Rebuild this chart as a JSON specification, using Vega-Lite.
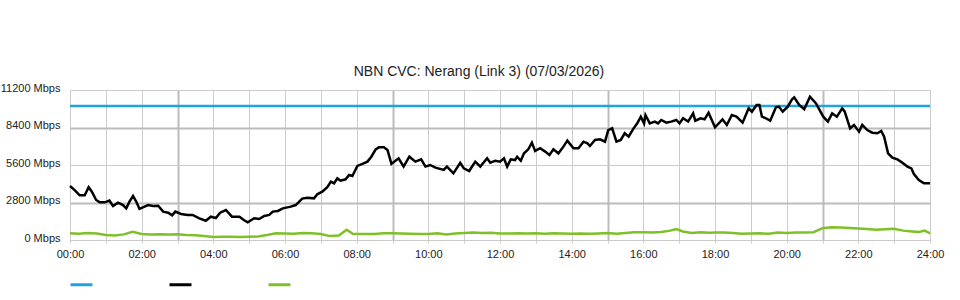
{
  "$schema": "https://vega.github.io/schema/vega-lite/v6.json",
  "autosize": "none",
  "width": 860,
  "height": 150,
  "padding": {"left": 70, "top": 90, "right": 30, "bottom": 60},
  "background": "white",
  "title": {
    "text": "NBN CVC: Nerang (Link 3) (07/03/2026)",
    "font": "Liberation Sans",
    "fontSize": 14,
    "fontWeight": "normal",
    "color": "#222222",
    "anchor": "middle",
    "dx": -21,
    "dy": 22,
    "baseline": "alphabetic",
    "offset": 14
  },
  "config": {
    "view": {"stroke": "#c8c8c8", "strokeWidth": 1},
    "axis": {
      "labelFont": "Liberation Sans",
      "labelFontSize": 11,
      "labelColor": "#222222",
      "domain": false,
      "title": null
    }
  },
  "datasets": {
    "capacity": [
      {"h": 0, "v": 10000, "series": "Capacity"},
      {"h": 24, "v": 10000, "series": "Capacity"}
    ],
    "upload": [
      {"h": 0, "v": 500}, {"h": 0.25, "v": 470}, {"h": 0.5, "v": 520}, {"h": 0.75, "v": 480},
      {"h": 1.0, "v": 380}, {"h": 1.25, "v": 330}, {"h": 1.5, "v": 420}, {"h": 1.75, "v": 620},
      {"h": 2.0, "v": 450}, {"h": 2.25, "v": 420}, {"h": 2.5, "v": 430}, {"h": 2.75, "v": 420},
      {"h": 3.0, "v": 430}, {"h": 3.25, "v": 380}, {"h": 3.5, "v": 360}, {"h": 3.75, "v": 300},
      {"h": 4.0, "v": 230}, {"h": 4.25, "v": 240}, {"h": 4.5, "v": 240}, {"h": 4.75, "v": 230},
      {"h": 5.0, "v": 240}, {"h": 5.25, "v": 260}, {"h": 5.5, "v": 370}, {"h": 5.75, "v": 500},
      {"h": 6.0, "v": 480}, {"h": 6.25, "v": 470}, {"h": 6.5, "v": 520}, {"h": 6.75, "v": 500},
      {"h": 7.0, "v": 440}, {"h": 7.25, "v": 290}, {"h": 7.5, "v": 330}, {"h": 7.72, "v": 760},
      {"h": 7.9, "v": 450}, {"h": 8.25, "v": 440}, {"h": 8.5, "v": 450}, {"h": 8.75, "v": 500},
      {"h": 9.0, "v": 500}, {"h": 9.25, "v": 480}, {"h": 9.5, "v": 470}, {"h": 9.75, "v": 440},
      {"h": 10.0, "v": 450}, {"h": 10.25, "v": 500}, {"h": 10.5, "v": 420}, {"h": 10.75, "v": 490},
      {"h": 11.0, "v": 520}, {"h": 11.25, "v": 560}, {"h": 11.5, "v": 520}, {"h": 11.75, "v": 540},
      {"h": 12.0, "v": 480}, {"h": 12.25, "v": 490}, {"h": 12.5, "v": 500}, {"h": 12.75, "v": 480},
      {"h": 13.0, "v": 500}, {"h": 13.25, "v": 470}, {"h": 13.5, "v": 500}, {"h": 13.75, "v": 490},
      {"h": 14.0, "v": 470}, {"h": 14.25, "v": 480}, {"h": 14.5, "v": 470}, {"h": 14.75, "v": 490},
      {"h": 15.0, "v": 520}, {"h": 15.25, "v": 460}, {"h": 15.5, "v": 520}, {"h": 15.75, "v": 580},
      {"h": 16.0, "v": 580}, {"h": 16.25, "v": 560}, {"h": 16.5, "v": 600}, {"h": 16.75, "v": 700},
      {"h": 16.92, "v": 820}, {"h": 17.1, "v": 640}, {"h": 17.35, "v": 520}, {"h": 17.6, "v": 580},
      {"h": 17.85, "v": 540}, {"h": 18.0, "v": 560}, {"h": 18.25, "v": 560}, {"h": 18.5, "v": 520},
      {"h": 18.75, "v": 470}, {"h": 19.0, "v": 490}, {"h": 19.25, "v": 500}, {"h": 19.5, "v": 470},
      {"h": 19.75, "v": 560}, {"h": 20.0, "v": 520}, {"h": 20.25, "v": 560}, {"h": 20.5, "v": 560},
      {"h": 20.75, "v": 580}, {"h": 21.0, "v": 880}, {"h": 21.25, "v": 950}, {"h": 21.5, "v": 930},
      {"h": 21.75, "v": 900}, {"h": 22.0, "v": 860}, {"h": 22.25, "v": 820}, {"h": 22.5, "v": 760},
      {"h": 22.75, "v": 800}, {"h": 23.0, "v": 840}, {"h": 23.25, "v": 700}, {"h": 23.5, "v": 640},
      {"h": 23.7, "v": 600}, {"h": 23.85, "v": 700}, {"h": 24.0, "v": 500}
    ],
    "download": [
      {"h": 0, "v": 4030}, {"h": 0.13, "v": 3730}, {"h": 0.27, "v": 3340}, {"h": 0.41, "v": 3340},
      {"h": 0.52, "v": 3940}, {"h": 0.61, "v": 3610}, {"h": 0.73, "v": 2990}, {"h": 0.83, "v": 2810},
      {"h": 0.97, "v": 2810}, {"h": 1.1, "v": 2940}, {"h": 1.2, "v": 2540}, {"h": 1.34, "v": 2790},
      {"h": 1.48, "v": 2610}, {"h": 1.57, "v": 2360}, {"h": 1.66, "v": 2860}, {"h": 1.76, "v": 3290},
      {"h": 1.85, "v": 2860}, {"h": 1.94, "v": 2320}, {"h": 2.08, "v": 2490}, {"h": 2.18, "v": 2610},
      {"h": 2.32, "v": 2540}, {"h": 2.46, "v": 2560}, {"h": 2.6, "v": 2120}, {"h": 2.74, "v": 2040},
      {"h": 2.85, "v": 1840}, {"h": 2.94, "v": 2120}, {"h": 3.1, "v": 1940}, {"h": 3.28, "v": 1870},
      {"h": 3.42, "v": 1870}, {"h": 3.61, "v": 1620}, {"h": 3.79, "v": 1440}, {"h": 3.93, "v": 1740},
      {"h": 4.07, "v": 1640}, {"h": 4.19, "v": 2040}, {"h": 4.35, "v": 2240}, {"h": 4.52, "v": 1740},
      {"h": 4.73, "v": 1740}, {"h": 4.85, "v": 1490}, {"h": 4.96, "v": 1320}, {"h": 5.14, "v": 1620},
      {"h": 5.28, "v": 1570}, {"h": 5.42, "v": 1790}, {"h": 5.56, "v": 1870}, {"h": 5.66, "v": 2120},
      {"h": 5.8, "v": 2170}, {"h": 5.94, "v": 2360}, {"h": 6.16, "v": 2490}, {"h": 6.3, "v": 2610},
      {"h": 6.48, "v": 3090}, {"h": 6.62, "v": 3160}, {"h": 6.81, "v": 3110}, {"h": 6.9, "v": 3410},
      {"h": 7.04, "v": 3610}, {"h": 7.18, "v": 3940}, {"h": 7.28, "v": 4360}, {"h": 7.37, "v": 4230},
      {"h": 7.46, "v": 4600}, {"h": 7.55, "v": 4430}, {"h": 7.69, "v": 4530}, {"h": 7.79, "v": 4850},
      {"h": 7.88, "v": 4780}, {"h": 8.02, "v": 5530}, {"h": 8.16, "v": 5680}, {"h": 8.3, "v": 5850},
      {"h": 8.41, "v": 6220}, {"h": 8.53, "v": 6770}, {"h": 8.62, "v": 6920}, {"h": 8.76, "v": 6920},
      {"h": 8.86, "v": 6720}, {"h": 8.97, "v": 5680}, {"h": 9.17, "v": 6100}, {"h": 9.31, "v": 5480},
      {"h": 9.47, "v": 6220}, {"h": 9.64, "v": 5850}, {"h": 9.8, "v": 6020}, {"h": 9.92, "v": 5480},
      {"h": 10.05, "v": 5600}, {"h": 10.2, "v": 5400}, {"h": 10.43, "v": 5230}, {"h": 10.52, "v": 5480},
      {"h": 10.7, "v": 4980}, {"h": 10.89, "v": 5770}, {"h": 10.99, "v": 5350}, {"h": 11.14, "v": 5150},
      {"h": 11.31, "v": 5850}, {"h": 11.45, "v": 5480}, {"h": 11.64, "v": 6100}, {"h": 11.73, "v": 5770},
      {"h": 11.87, "v": 5920}, {"h": 12.0, "v": 5850}, {"h": 12.11, "v": 6100}, {"h": 12.2, "v": 5480},
      {"h": 12.3, "v": 6020}, {"h": 12.42, "v": 5970}, {"h": 12.48, "v": 6220}, {"h": 12.58, "v": 5920},
      {"h": 12.67, "v": 6470}, {"h": 12.79, "v": 6770}, {"h": 12.89, "v": 7270}, {"h": 12.98, "v": 6650},
      {"h": 13.12, "v": 6850}, {"h": 13.26, "v": 6600}, {"h": 13.38, "v": 6350}, {"h": 13.49, "v": 6770},
      {"h": 13.63, "v": 6470}, {"h": 13.77, "v": 6970}, {"h": 13.88, "v": 7420}, {"h": 14.05, "v": 6850},
      {"h": 14.19, "v": 6850}, {"h": 14.33, "v": 7340}, {"h": 14.44, "v": 7220}, {"h": 14.51, "v": 7020},
      {"h": 14.65, "v": 7470}, {"h": 14.79, "v": 7520}, {"h": 14.93, "v": 7340}, {"h": 15.02, "v": 8210},
      {"h": 15.13, "v": 8340}, {"h": 15.25, "v": 7340}, {"h": 15.37, "v": 7470}, {"h": 15.48, "v": 7970},
      {"h": 15.59, "v": 7720}, {"h": 15.71, "v": 8260}, {"h": 15.83, "v": 8710}, {"h": 15.93, "v": 9210},
      {"h": 16.02, "v": 8710}, {"h": 16.06, "v": 9330}, {"h": 16.18, "v": 8710}, {"h": 16.32, "v": 8840},
      {"h": 16.41, "v": 8710}, {"h": 16.5, "v": 8960}, {"h": 16.64, "v": 8760}, {"h": 16.78, "v": 8840},
      {"h": 16.92, "v": 8960}, {"h": 17.01, "v": 8710}, {"h": 17.11, "v": 9090}, {"h": 17.25, "v": 8840},
      {"h": 17.39, "v": 9460}, {"h": 17.45, "v": 8910}, {"h": 17.6, "v": 9090}, {"h": 17.71, "v": 9010},
      {"h": 17.82, "v": 9510}, {"h": 18.0, "v": 8410}, {"h": 18.21, "v": 9010}, {"h": 18.33, "v": 8590},
      {"h": 18.47, "v": 9330}, {"h": 18.6, "v": 9210}, {"h": 18.77, "v": 8760}, {"h": 18.94, "v": 9830},
      {"h": 19.03, "v": 9580}, {"h": 19.16, "v": 10080}, {"h": 19.24, "v": 10080}, {"h": 19.31, "v": 9210},
      {"h": 19.42, "v": 9090}, {"h": 19.54, "v": 8910}, {"h": 19.7, "v": 9910}, {"h": 19.78, "v": 9960},
      {"h": 19.89, "v": 9580}, {"h": 20.03, "v": 9960}, {"h": 20.15, "v": 10500}, {"h": 20.21, "v": 10650},
      {"h": 20.35, "v": 10080}, {"h": 20.49, "v": 9760}, {"h": 20.65, "v": 10700}, {"h": 20.82, "v": 10200},
      {"h": 21.02, "v": 9210}, {"h": 21.15, "v": 8840}, {"h": 21.27, "v": 9460}, {"h": 21.4, "v": 9210},
      {"h": 21.55, "v": 9830}, {"h": 21.62, "v": 9580}, {"h": 21.77, "v": 8340}, {"h": 21.88, "v": 8590},
      {"h": 22.02, "v": 8090}, {"h": 22.11, "v": 8590}, {"h": 22.25, "v": 8210}, {"h": 22.39, "v": 8010},
      {"h": 22.53, "v": 7970}, {"h": 22.64, "v": 8140}, {"h": 22.72, "v": 7720}, {"h": 22.83, "v": 6470},
      {"h": 22.95, "v": 6150}, {"h": 23.09, "v": 6020}, {"h": 23.23, "v": 5770}, {"h": 23.37, "v": 5480},
      {"h": 23.48, "v": 5350}, {"h": 23.55, "v": 4930}, {"h": 23.69, "v": 4480}, {"h": 23.83, "v": 4230},
      {"h": 24.0, "v": 4230}
    ]
  },
  "encoding": {
    "x": {
      "field": "h",
      "type": "quantitative",
      "scale": {"domain": [0, 24], "nice": false, "zero": false},
      "axis": {
        "values": [0,1,2,3,4,5,6,7,8,9,10,11,12,13,14,15,16,17,18,19,20,21,22,23,24],
        "labelExpr": "datum.value % 2 == 0 ? (datum.value < 10 ? '0' : '') + datum.value + ':00' : ''",
        "grid": true,
        "gridColor": {"condition": {"test": "datum.value % 6 == 3", "value": "#bcbcbc"}, "value": "#cccccc"},
        "gridWidth": {"condition": {"test": "datum.value % 6 == 3", "value": 2}, "value": 1},
        "ticks": true,
        "tickSize": 3,
        "tickColor": "#cccccc",
        "labelPadding": 5,
        "labelFlush": false,
        "labelOverlap": false
      }
    },
    "y": {
      "field": "v",
      "type": "quantitative",
      "scale": {"domain": [0, 11200], "nice": false},
      "axis": {
        "values": [0, 2800, 5600, 8400, 11200],
        "labelExpr": "datum.value + ' Mbps'",
        "grid": true,
        "gridColor": {"condition": {"test": "datum.value == 2800 || datum.value == 8400", "value": "#bcbcbc"}, "value": "#cccccc"},
        "gridWidth": {"condition": {"test": "datum.value == 2800 || datum.value == 8400", "value": 2}, "value": 1},
        "ticks": false,
        "labelPadding": 10,
        "labelOffset": -2
      }
    },
    "color": {
      "field": "series",
      "type": "nominal",
      "scale": {"domain": ["Capacity", "Download", "Upload"], "range": ["#1ea4e0", "#000000", "#7fc028"]},
      "legend": {
        "orient": "none",
        "legendX": -1,
        "legendY": 182,
        "direction": "horizontal",
        "columns": 3,
        "symbolType": "stroke",
        "symbolSize": 484,
        "symbolStrokeWidth": 3,
        "labelExpr": "''",
        "labelOffset": 0,
        "columnPadding": 64,
        "title": null
      }
    }
  },
  "layer": [
    {
      "data": {"name": "capacity"},
      "mark": {"type": "line", "strokeWidth": 2.5}
    },
    {
      "data": {"name": "upload"},
      "transform": [{"calculate": "'Upload'", "as": "series"}],
      "mark": {"type": "line", "strokeWidth": 2.5, "interpolate": "linear"}
    },
    {
      "data": {"name": "download"},
      "transform": [{"calculate": "'Download'", "as": "series"}],
      "mark": {"type": "line", "strokeWidth": 2.5}
    }
  ]
}
